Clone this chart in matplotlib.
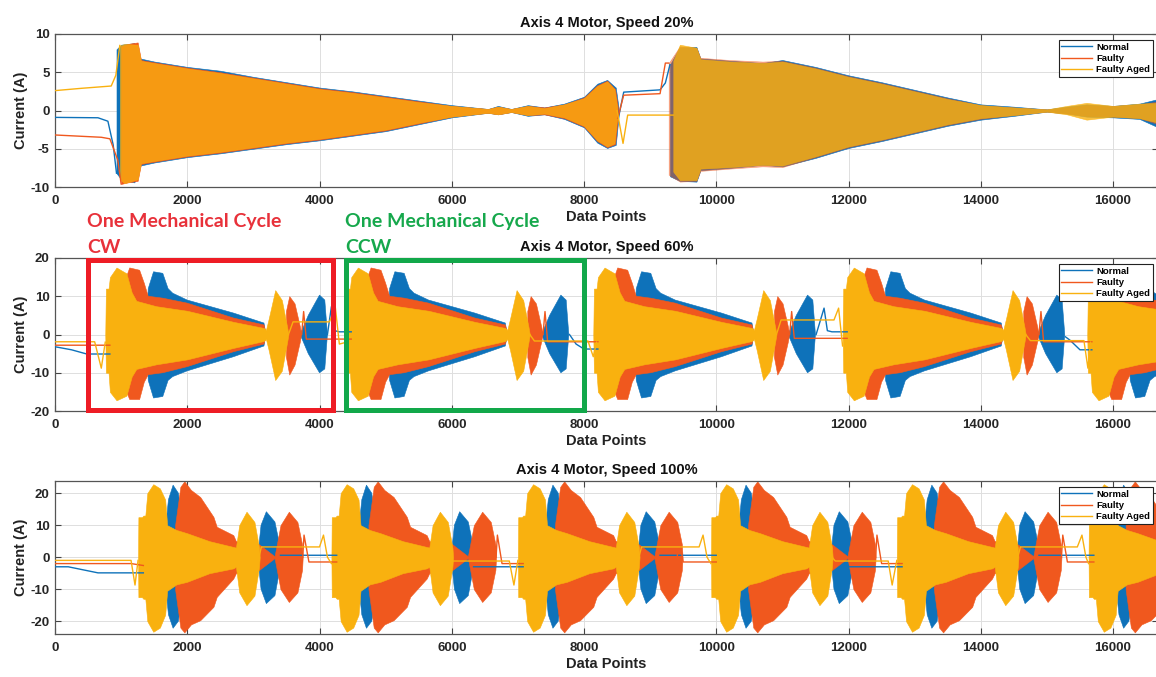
import numpy as np
import matplotlib.pyplot as plt
from matplotlib.patches import Rectangle

plt.rcParams['font.family'] = ['Liberation Sans', 'DejaVu Sans']
plt.rcParams['axes.unicode_minus'] = False

nan = np.nan
c_normal = "#0E72BA"
c_faulty = "#F0581E"
c_aged = "#F9B10F"

# ---------------- Speed 20% (one long record) ----------------
s20_normal_env_x = [930, 1000, 1200, 1290, 1500, 2000, 2500, 3000, 3500, 4000, 4500, 5000, 5500, 6000, 6550, 6700, 6900,
                    7150, 7400, 7700, 8000, 8200, 8350, 8480, 8520, nan,
                    9300, 9450, 9700, 9760, 10200, 10700, 11000, 11500, 12000, 12500, 13000, 13500, 14000, 14500,
                    15000, 15300, 15600, 16000, 16400, 16680]
s20_normal_env_top = [8.0, 8.6, 8.8, 6.8, 6.4, 5.7, 5.2, 4.4, 3.7, 3.0, 2.5, 1.9, 1.3, 0.7, 0.2, 0.6, 0.2,
                      0.7, 0.4, 0.9, 1.8, 3.5, 4.0, 3.0, 0.5, nan,
                      6.0, 8.3, 8.3, 6.8, 6.5, 6.2, 6.6, 5.7, 4.6, 3.7, 2.7, 1.7, 0.8, 0.5,
                      0.15, 0.5, 0.8, 0.6, 0.9, 1.5]
s20_normal_env_bot = [-8.2, -9.0, -9.4, -7.2, -6.8, -6.1, -5.6, -5.0, -4.4, -3.9, -3.3, -2.7, -1.8, -0.9, -0.3, -0.5, -0.2,
                      -0.7, -0.5, -1.1, -2.2, -4.2, -4.9, -4.5, -1.0, nan,
                      -8.6, -9.2, -9.3, -7.8, -7.5, -7.1, -7.3, -6.2, -4.9, -4.0, -3.0, -2.0, -1.2, -0.7,
                      -0.15, -0.4, -0.8, -0.9, -1.1, -2.2]
s20_normal_idle_x = [0, 650, 800, 880, 930, nan, 8520, 8600, 9150, 9230, 9300]
s20_normal_idle_y = [-0.9, -0.95, -1.4, -4.5, -8.2, nan, -1.0, 2.4, 2.7, 3.6, 6.0]

s20_faulty_env_x = [1000, 1100, 1250, 1300, 1500, 2000, 2500, 3000, 3500, 4000, 4500, 5000, 5500, 6000, 6550, 6700, 6900,
                    7150, 7400, 7700, 8000, 8200, 8350, 8470, 8510, nan,
                    9280, 9450, 9700, 9760, 10200, 10700, 11000, 11500, 12000, 12500, 13000, 13500, 14000, 14500,
                    15000, 15300, 15600, 16000, 16400, 16680]
s20_faulty_env_top = [8.4, 8.7, 8.9, 6.6, 6.3, 5.6, 5.0, 4.3, 3.6, 2.9, 2.4, 1.8, 1.2, 0.6, 0.2, 0.5, 0.2,
                      0.6, 0.4, 0.8, 1.7, 3.3, 3.9, 2.8, 0.5, nan,
                      6.2, 8.4, 8.2, 6.9, 6.6, 6.4, 6.5, 5.6, 4.5, 3.6, 2.6, 1.6, 0.7, 0.4,
                      0.15, 0.4, 0.7, 0.6, 0.8, 1.2]
s20_faulty_env_bot = [-9.6, -9.4, -9.2, -7.0, -6.7, -6.0, -5.5, -4.9, -4.3, -3.8, -3.2, -2.6, -1.7, -0.8, -0.3, -0.5, -0.2,
                      -0.6, -0.5, -1.0, -2.1, -4.0, -4.8, -4.4, -1.0, nan,
                      -8.4, -9.3, -9.2, -7.9, -7.6, -7.3, -7.4, -6.1, -4.8, -3.9, -2.9, -1.9, -1.1, -0.6,
                      -0.15, -0.4, -0.7, -0.8, -1.0, -1.8]
s20_faulty_idle_x = [0, 700, 830, 950, 1000, nan, 8510, 8600, 9150, 9230, 9280]
s20_faulty_idle_y = [-3.2, -3.5, -3.7, -6.5, -9.6, nan, -1.0, 2.0, 2.2, 6.2, 6.2]

s20_aged_env_x = [980, 1050, 1250, 1300, 1500, 2000, 2500, 3000, 3500, 4000, 4500, 5000, 5500, 6000, 6550, 6700, 6900,
                  7150, 7400, 7700, 8000, 8200, 8350, 8460, 8500, nan,
                  9350, 9450, 9700, 9760, 10200, 10700, 11000, 11500, 12000, 12500, 13000, 13500, 14000, 14500,
                  15000, 15300, 15600, 16000, 16400, 16680]
s20_aged_env_top = [8.5, 8.7, 8.6, 6.5, 6.2, 5.5, 4.9, 4.2, 3.5, 2.8, 2.3, 1.7, 1.1, 0.6, 0.2, 0.5, 0.2,
                    0.6, 0.3, 0.8, 1.6, 3.2, 3.8, 2.8, 0.5, nan,
                    6.5, 8.6, 8.2, 6.7, 6.4, 6.2, 6.4, 5.5, 4.4, 3.5, 2.5, 1.5, 0.7, 0.4,
                    0.15, 0.6, 1.0, 0.6, 0.9, 1.0]
s20_aged_env_bot = [-9.0, -9.5, -9.0, -6.9, -6.6, -5.9, -5.4, -4.8, -4.2, -3.7, -3.1, -2.5, -1.6, -0.8, -0.3, -0.5, -0.2,
                    -0.6, -0.4, -0.9, -2.0, -3.9, -4.7, -4.3, -1.0, nan,
                    -8.0, -9.1, -9.1, -7.6, -7.4, -7.1, -7.2, -6.0, -4.7, -3.8, -2.8, -1.8, -1.0, -0.6,
                    -0.15, -0.5, -1.2, -0.8, -1.0, -1.6]
s20_aged_idle_x = [0, 400, 850, 920, 980, nan, 8500, 8590, 8660, 9300, 9350]
s20_aged_idle_y = [2.6, 2.9, 3.2, 4.6, 8.5, nan, 0.0, -4.3, -0.6, -0.6, -0.6]

# ---------------- Speed 60% (repeating mechanical cycles) ----------------
s60_cycle_starts = [830, 4480, 8210, 11980, 15680]
# envelope of one cycle, offsets from cycle start
s60_aged_dx = [-70, -60, -20, 0, 100, 250, 330, 400, 700, 1170, 1870, 2330, 2360, 2400, 2500, 2600, 2680, 2700]
s60_aged_top = [0, 12, 12, 15, 17.5, 16, 11, 8.8, 7.4, 6.2, 3.3, 1.7, 1.2, 4, 11.6, 9, 2, 0]
s60_aged_bot = [0, -10, -10, -15, -17.2, -16, -11, -9, -7.8, -6.5, -3.5, -1.7, -1.2, -4, -11.9, -9.5, -2, 0]
s60_faulty_dx = [200, 230, 300, 450, 520, 580, 800, 1170, 1870, 2330, 2370, nan, 2670, 2720, 2800, 2880, 2900]
s60_faulty_top = [0, 14, 17.4, 16.8, 13.4, 10, 9.5, 8.2, 4.3, 2.5, 0, nan, 6, 9.9, 8, 2, 0]
s60_faulty_bot = [0, -14, -17, -17, -12.5, -10.5, -10, -8.4, -4.5, -2.5, 0, nan, -6, -10.6, -8, -2, 0]
s60_normal_dx = [550, 580, 660, 800, 880, 950, 1170, 1870, 2330, 2360, nan, 2890, 3000, 3170, 3250, 3290]
s60_normal_top = [0, 12, 16.4, 16, 12, 10.8, 9.0, 5.6, 3.0, 0, nan, 0.5, 5, 10.3, 9, 0]
s60_normal_bot = [0, -12, -16.6, -16.2, -12, -11, -9.5, -5.8, -3.0, 0, nan, -0.5, -5, -10, -9, 0]
# idle stretches between cycles
s60_normal_idle_x = [0, 250, 480, 830, nan, 4120, 4180, 4230, 4300, 4480, nan, 7780, 7880, 8000, 8210, nan,
                     11510, 11630, 11680, 11750, 11980, nan, 15280, 15350, 15500, 15680]
s60_normal_idle_y = [-3.2, -4.0, -5.1, -5.1, nan, 0, 7.3, 1.0, 0.7, 0.7, nan, 0, -2.5, -3.8, -3.8, nan,
                     0, 6.9, 1.0, 0.7, 0.7, nan, -0.6, -1.5, -4.0, -4.0]
s60_faulty_idle_x = [0, 830, nan, 3730, 3760, 3800, 4480, nan, 7380, 7410, 7450, 8210, nan,
                     11110, 11140, 11180, 11980, nan, 14880, 14910, 14950, 15680]
s60_faulty_idle_y = [-2.8, -2.8, nan, 0, 6.0, -1.2, -1.2, nan, 0, 6.0, -1.9, -1.9, nan,
                     0, 6.0, -1.0, -1.0, nan, 0, 6.0, -1.9, -1.9]
s60_aged_idle_x = [0, 600, 700, 760, nan, 3530, 3600, 4150, 4240, 4300, 4410, nan, 7180, 7250, 8060, 8140, 8190, nan,
                   10910, 10980, 11780, 11850, 11910, 11910, nan, 14680, 14750, 15560, 15620, 15660]
s60_aged_idle_y = [-1.9, -1.9, -8.8, -2.0, nan, 0, 3.3, 3.3, 7.0, -2.5, -2.0, nan, 0, -1.7, -1.7, -5.8, -2.0, nan,
                   0, 3.8, 3.8, 6.9, -3.0, -3.0, nan, 0, -1.6, -1.6, -8.8, -2.0]

# ---------------- Speed 100% (repeating mechanical cycles) ----------------
s100_cycle_starts = [1336, 4260, 7080, 10000, 12810, 15710]
s100_aged_dx = [-80, -75, -20, 0, 30, 60, 150, 250, 330, 360, 500, 660, 1000, 1360, 1400, 1450, 1560, 1680, 1750, 1760]
s100_aged_top = [0, 12.5, 12.5, 13, 13, 20, 22.8, 21.5, 18, 10, 8.5, 7.5, 5, 3.2, 3, 10, 14.2, 11, 3, 0]
s100_aged_bot = [0, -12.5, -12.5, -13, -13, -20, -23.3, -22, -18, -10.5, -8.5, -7.7, -5, -3.5, -3, -11, -15, -12, -3, 0]
s100_normal_dx = [330, 380, 450, 530, 600, 620, nan, 1745, 1780, 1860, 1990, 2070, 2075]
s100_normal_top = [8, 18, 22.5, 20, 10, 0, nan, 3, 10, 14.2, 11, 3, 0]
s100_normal_bot = [-8, -18, -22.2, -20, -10, 0, nan, -3, -10, -14.5, -12, -3, 0]
s100_faulty_dx = [480, 560, 620, 720, 860, 1060, 1110, 1360, 1400, 1750, 1984, 2000, 2074, 2200, 2330, 2400, 2410]
s100_faulty_top = [10, 22, 23.7, 21, 18.8, 12.6, 9.5, 6.9, 5, 4, 0.3, 2, 10, 14.2, 11, 4, 0]
s100_faulty_bot = [-10, -22, -23.5, -21, -19.7, -15.5, -12.4, -6.7, -5, -4, -0.3, -2, -10, -14, -11, -4, 0]
s100_normal_idle_x = [0, 200, 650, 1336, nan, 3410, 4260, nan, 6330, 7080, nan, 9150, 10000, nan, 11960, 12810, nan,
                      14880, 15710]
s100_normal_idle_y = [-3.0, -3.0, -4.9, -4.9, nan, 0.6, 0.6, nan, -3.0, -3.0, nan, 0.6, 0.6, nan, -3.0, -3.0, nan,
                      0.6, 0.6]
s100_faulty_idle_x = [0, 1150, 1336, nan, 3746, 3766, 3840, 4260, nan, 6670, 6690, 6760, 7080, nan,
                      9410, 9430, 9500, 10000, nan, 12410, 12430, 12500, 12810, nan, 15220, 15240, 15310, 15710]
s100_faulty_idle_y = [-2.0, -2.0, -2.6, nan, 0, 6.9, -1.5, -1.5, nan, 0, 6.9, -2.0, -2.0, nan,
                      0, 6.9, -1.5, -1.5, nan, 0, 6.9, -2.0, -2.0, nan, 0, 6.9, -1.5, -1.5]
s100_aged_idle_x = [0, 1150, 1210, 1256, nan, 3086, 3120, 4000, 4060, 4120, 4180, nan, 5950, 6000, 6870, 6940, 7000,
                    nan, 8830, 8870, 9740, 9800, 9860, 9920, nan, 11750, 11800, 12600, 12660, 12730, nan,
                    14560, 14600, 15460, 15530, 15590, 15630]
s100_aged_idle_y = [-1.0, -1.0, -8.7, -1.0, nan, 0, 3.2, 3.2, 6.9, 0, -2.0, nan, 0, -1.2, -1.2, -8.7, -1.0,
                    nan, 0, 3.2, 3.2, 6.9, 0, -2.0, nan, 0, -1.2, -1.2, -8.7, -1.0, nan,
                    0, 3.2, 3.2, 6.9, 0, -2.0]

labels = ["Normal", "Faulty", "Faulty Aged"]
colors = [c_normal, c_faulty, c_aged]


def draw_env(ax, x, top, bot, color, alpha=1.0):
    ax.fill_between(x, bot, top, color=color, lw=0.4, alpha=alpha, zorder=2)


def draw_bursts(ax, x, top, bot, color, alphas):
    # split the record at the nan gaps, each burst gets its own alpha
    x, top, bot = np.array(x), np.array(top), np.array(bot)
    cuts = [-1] + list(np.where(np.isnan(x))[0]) + [len(x)]
    for k in range(len(cuts) - 1):
        sl = slice(cuts[k] + 1, cuts[k + 1])
        draw_env(ax, x[sl], top[sl], bot[sl], color, alphas[k])


def draw_cycles(ax, starts, dx, top, bot, color):
    for s in starts:
        draw_env(ax, [s + d for d in dx], top, bot, color)


def style_axes(ax, ylim, yticks, title):
    ax.set_xlim(0, 16680)
    ax.set_ylim(*ylim)
    ax.set_xticks(range(0, 16001, 2000))
    ax.set_yticks(yticks)
    ax.grid(True, color="#dedede", lw=0.7)
    ax.set_axisbelow(True)
    ax.tick_params(direction="in", top=True, right=True, length=4, width=0.8, color="#444444",
                   labelsize=9.5, pad=6)
    ax.tick_params(axis="y", pad=4)
    for lab in ax.get_xticklabels() + ax.get_yticklabels():
        lab.set_fontweight("bold")
        lab.set_color("#262626")
    for sp in ax.spines.values():
        sp.set_color("#555555")
        sp.set_linewidth(0.9)
    ax.set_title(title, fontsize=10.5, fontweight="bold", pad=5, color="#111111")
    ax.set_xlabel("Data Points", fontsize=10.5, fontweight="bold", labelpad=2, color="#222222")
    ax.set_ylabel("Current (A)", fontsize=10.5, fontweight="bold", labelpad=2, color="#222222")
    leg = ax.legend(loc="upper right", bbox_to_anchor=(0.9955, 0.962), borderaxespad=0,
                    fancybox=False, framealpha=1, edgecolor="#222222", handlelength=3.2,
                    handletextpad=0.5, borderpad=0.3, labelspacing=0.25, prop={"weight": "bold", "size": 6.8})
    leg.get_frame().set_linewidth(0.8)


fig = plt.figure(figsize=(11.56, 6.77), dpi=100)
left, width, height = 55 / 1156, 1103 / 1156, 153 / 677
ax1 = fig.add_axes([left, 1 - 187 / 677, width, height])
ax2 = fig.add_axes([left, 1 - 411 / 677, width, height])
ax3 = fig.add_axes([left, 1 - 634 / 677, width, height])

# Speed 20%
draw_bursts(ax1, s20_normal_env_x, s20_normal_env_top, s20_normal_env_bot, c_normal, (1.0, 1.0))
draw_bursts(ax1, s20_faulty_env_x, s20_faulty_env_top, s20_faulty_env_bot, c_faulty, (1.0, 0.5))
draw_bursts(ax1, s20_aged_env_x, s20_aged_env_top, s20_aged_env_bot, c_aged, (0.75, 0.8))
for xs, ys, c, lab in zip([s20_normal_idle_x, s20_faulty_idle_x, s20_aged_idle_x],
                          [s20_normal_idle_y, s20_faulty_idle_y, s20_aged_idle_y], colors, labels):
    ax1.plot(xs, ys, color=c, lw=1.0, label=lab, zorder=3)
style_axes(ax1, (-10, 10), [-10, -5, 0, 5, 10], "Axis 4 Motor, Speed 20%")

# Speed 60%
draw_cycles(ax2, s60_cycle_starts, s60_normal_dx, s60_normal_top, s60_normal_bot, c_normal)
draw_cycles(ax2, s60_cycle_starts, s60_faulty_dx, s60_faulty_top, s60_faulty_bot, c_faulty)
draw_cycles(ax2, s60_cycle_starts, s60_aged_dx, s60_aged_top, s60_aged_bot, c_aged)
for xs, ys, c, lab in zip([s60_normal_idle_x, s60_faulty_idle_x, s60_aged_idle_x],
                          [s60_normal_idle_y, s60_faulty_idle_y, s60_aged_idle_y], colors, labels):
    ax2.plot(xs, ys, color=c, lw=1.0, label=lab, zorder=3)
style_axes(ax2, (-20, 20), [-20, -10, 0, 10, 20], "Axis 4 Motor, Speed 60%")

# Speed 100%
draw_cycles(ax3, s100_cycle_starts, s100_normal_dx, s100_normal_top, s100_normal_bot, c_normal)
draw_cycles(ax3, s100_cycle_starts, s100_faulty_dx, s100_faulty_top, s100_faulty_bot, c_faulty)
draw_cycles(ax3, s100_cycle_starts, s100_aged_dx, s100_aged_top, s100_aged_bot, c_aged)
for xs, ys, c, lab in zip([s100_normal_idle_x, s100_faulty_idle_x, s100_aged_idle_x],
                          [s100_normal_idle_y, s100_faulty_idle_y, s100_aged_idle_y], colors, labels):
    ax3.plot(xs, ys, color=c, lw=1.0, label=lab, zorder=3)
style_axes(ax3, (-24, 23.8), [-20, -10, 0, 10, 20], "Axis 4 Motor, Speed 100%")

# cycle annotations
ax2.add_patch(Rectangle((500, -19.7), 4210 - 500, 19.5 + 19.7, fill=False, ec="#EE1C25", lw=3.6,
                        clip_on=False, zorder=6))
ax2.add_patch(Rectangle((4400, -19.7), 8000 - 4400, 19.5 + 19.7, fill=False, ec="#12A84A", lw=3.6,
                        clip_on=False, zorder=6))
ann = dict(fontsize=14, fontweight="bold", family=["Lato", "DejaVu Sans"])
fig.text(87 / 1156, 1 - 227 / 677, "One Mechanical Cycle", color="#E8313A", **ann)
fig.text(87 / 1156, 1 - 253 / 677, "CW", color="#E8313A", **ann)
fig.text(345 / 1156, 1 - 227 / 677, "One Mechanical Cycle", color="#16A84C", **ann)
fig.text(345 / 1156, 1 - 253 / 677, "CCW", color="#16A84C", **ann)

fig.savefig("out.png", dpi=100)
